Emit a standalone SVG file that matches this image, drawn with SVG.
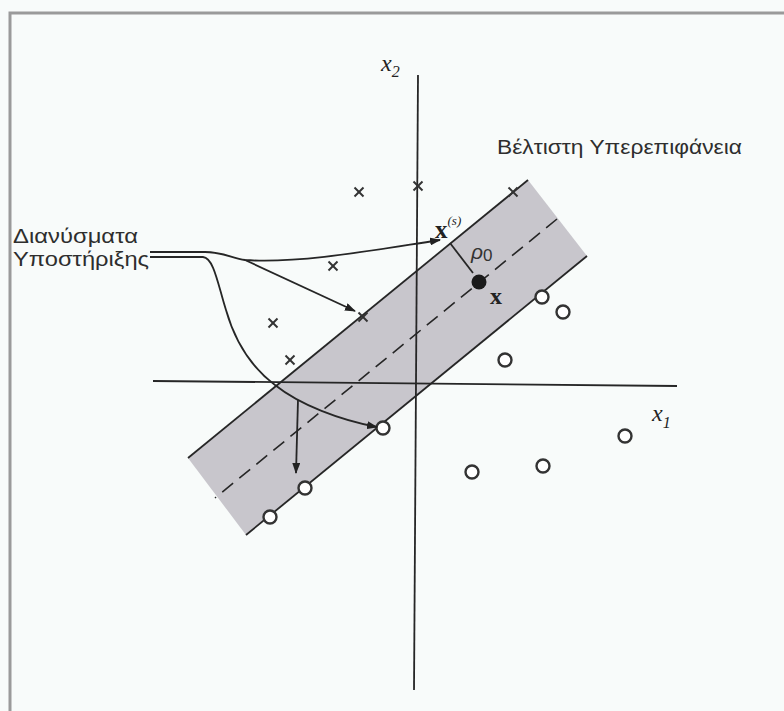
<svg xmlns="http://www.w3.org/2000/svg" width="784" height="711" viewBox="0 0 784 711">
<style>
.ln{stroke:#262626;stroke-width:1.8;fill:none}
.cr{stroke:#333;stroke-width:1.9;fill:none}
.ci{stroke:#333;stroke-width:2.4;fill:#fff}
.lbl{font-family:"Liberation Sans",Arial,sans-serif;fill:#2e2e2e}
.math{font-family:"Liberation Serif","Times New Roman",serif;fill:#222}
</style>
<defs>
<marker id="ah" markerUnits="userSpaceOnUse" markerWidth="11" markerHeight="8" refX="10" refY="4" orient="auto">
<path d="M0,0 L11,4 L0,8 z" fill="#222"/>
</marker>
<g id="x-mark"><line x1="-4.5" y1="-4.5" x2="4.5" y2="4.5"/><line x1="-4.5" y1="4.5" x2="4.5" y2="-4.5"/></g>
</defs>
<rect width="784" height="711" fill="#f8fbfa"/>
<path d="M10,711 L10,13 L784,13" stroke="#9a9a9a" stroke-width="3" fill="none"/>

<g id="band">
<polygon points="188,458 528,180 587,256 246,535" fill="#c8c6cc"/>
<line class="ln" x1="188" y1="458" x2="528" y2="180"/>
<line class="ln" x1="246" y1="535" x2="587" y2="256"/>
<line x1="557" y1="219" x2="215" y2="498" stroke="#262626" stroke-width="1.6" stroke-dasharray="14,8"/>
</g>

<g id="axes">
<line class="ln" x1="418" y1="75" x2="414" y2="690"/>
<line class="ln" x1="153" y1="381" x2="677" y2="386"/>
<text class="math" x="381" y="71" font-size="24" font-style="italic">x<tspan font-size="16" dy="6">2</tspan></text>
<text class="math" x="652" y="421" font-size="24" font-style="italic">x<tspan font-size="16" dy="7">1</tspan></text>
</g>

<g id="crosses" class="cr">
<use href="#x-mark" x="359" y="192"/>
<use href="#x-mark" x="418" y="186"/>
<use href="#x-mark" x="333" y="266"/>
<use href="#x-mark" x="273" y="323"/>
<use href="#x-mark" x="290" y="360"/>
<use href="#x-mark" x="513" y="192"/>
<use href="#x-mark" x="363" y="317"/>
</g>

<g id="circles">
<circle class="ci" cx="542" cy="297" r="6.5"/>
<circle class="ci" cx="563" cy="312" r="6.5"/>
<circle class="ci" cx="505" cy="360" r="6.5"/>
<circle class="ci" cx="383" cy="428" r="6.5"/>
<circle class="ci" cx="305" cy="488" r="6.5"/>
<circle class="ci" cx="270" cy="517" r="6.5"/>
<circle class="ci" cx="472" cy="472" r="6.5"/>
<circle class="ci" cx="543" cy="466" r="6.5"/>
<circle class="ci" cx="625" cy="436" r="6.5"/>
</g>

<g id="point-x">
<circle cx="479" cy="282" r="7.5" fill="#1a1a1a"/>
<line class="ln" x1="450" y1="243" x2="473" y2="273"/>
<text x="471" y="259" font-family="'Liberation Sans',Arial,sans-serif" font-size="21" font-style="italic" fill="#333">ρ<tspan font-size="17" font-style="normal" dy="2">0</tspan></text>
<text class="math" x="490" y="304" font-size="24" font-weight="bold">x</text>
<text class="math" x="435" y="238" font-size="25" font-weight="bold">x<tspan font-size="13" font-style="italic" font-weight="normal" dy="-13">(s)</tspan></text>
</g>

<g id="labels">
<text class="lbl" x="497" y="154" font-size="20" textLength="245" lengthAdjust="spacingAndGlyphs">Βέλτιστη Υπερεπιφάνεια</text>
<text class="lbl" x="13" y="243" font-size="20" textLength="125" lengthAdjust="spacingAndGlyphs">Διανύσματα</text>
<text class="lbl" x="13" y="266" font-size="20" textLength="136" lengthAdjust="spacingAndGlyphs">Υποστήριξης</text>
</g>

<g id="connectors" class="ln">
<path d="M150,252 L205,252 C222,252 232,258 245,260 C300,264 380,249 440,240" marker-end="url(#ah)"/>
<path d="M245,260 L355,311" marker-end="url(#ah)"/>
<path d="M150,257 L203,257 C214,258 218,285 226,310 C236,345 255,370 275,385 C300,405 340,420 377,427" marker-end="url(#ah)"/>
<path d="M298,400 L296,473" marker-end="url(#ah)"/>
</g>
</svg>
